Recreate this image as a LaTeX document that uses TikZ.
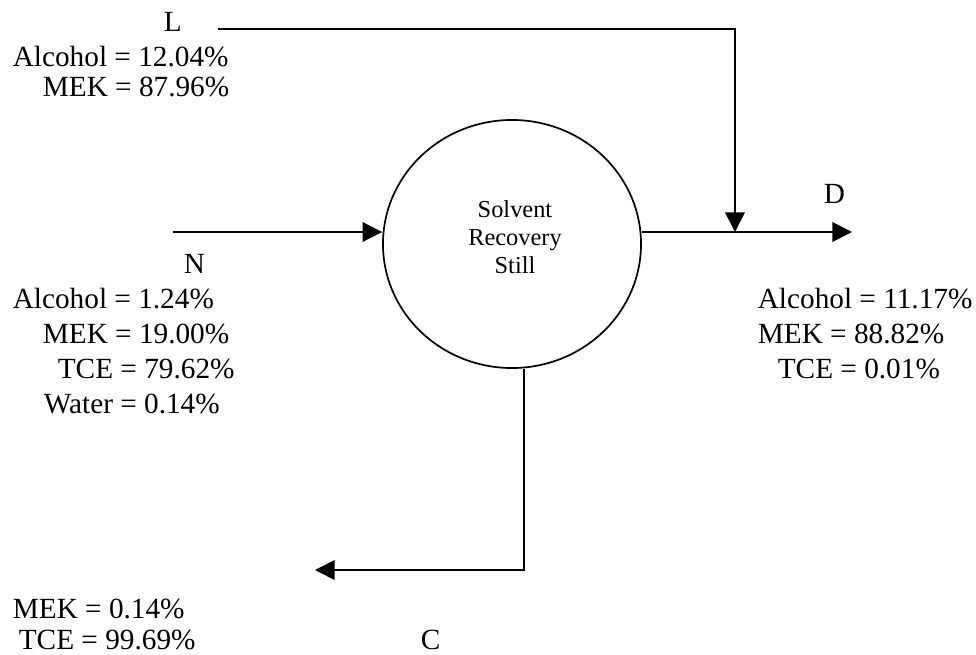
\documentclass[tikz,border=0pt]{standalone}
\usepackage{fontspec}
\setmainfont{Liberation Serif}
\usetikzlibrary{arrows.meta,shapes.geometric}

\begin{document}
\begin{tikzpicture}[x=0.41pt,y=0.41pt,yscale=-1,xscale=1,
  line width=0.7pt,
  flow/.style={-{Triangle[length=8pt,width=8pt]}},
  txt/.style={anchor=base west,inner sep=0pt,font=\fontsize{12}{14}\selectfont}]
\useasboundingbox (0,0) rectangle (976,655);

%Shape: Ellipse
\node[draw,ellipse,inner sep=0pt,minimum width=105.8pt,minimum height=101.7pt] (still) at (512,244) {};
% Text Node
\node[align=center,inner sep=0pt,font=\fontsize{10}{11.5}\selectfont] (stilltxt) at (515,237) {Solvent\\Recovery\\Still};

%Coordinates
\coordinate (Lstart) at (218,29);
\coordinate (Lturn) at (735,29);
\coordinate (Dmix) at (735,232);
\coordinate (Nstart) at (173,232);
\coordinate (Dend) at (852,232);
\coordinate (Cturn) at (524,570);
\coordinate (Cend) at (315,570);

%Straight Lines
\draw[flow] (Lstart) -- (Lturn) -- (Dmix);
%Straight Lines
\draw[flow] (Nstart) -- (Nstart -| still.west);
%Straight Lines
\draw[flow] (Dmix -| still.east) -- (Dend);
%Straight Lines
\draw[flow] (Cturn |- still.south) -- (Cturn) -- (Cend);

% Text Node
\node[txt] (L) at (163,31) {L};
% Text Node
\node[txt] (lAlc) at (12,66) {Alcohol = 12.04\%};
% Text Node
\node[txt] (lMEK) at (42,96) {MEK = 87.96\%};
% Text Node
\node[txt] (N) at (183,273) {N};
% Text Node
\node[txt] (nAlc) at (12,308) {Alcohol = 1.24\%};
% Text Node
\node[txt] (nMEK) at (42,343) {MEK = 19.00\%};
% Text Node
\node[txt] (nTCE) at (57,378) {TCE = 79.62\%};
% Text Node
\node[txt] (nWat) at (43,413) {Water = 0.14\%};
% Text Node
\node[txt] (D) at (823,203) {D};
% Text Node
\node[txt] (dAlc) at (757,308) {Alcohol = 11.17\%};
% Text Node
\node[txt] (dMEK) at (757,343) {MEK = 88.82\%};
% Text Node
\node[txt] (dTCE) at (777,378) {TCE = 0.01\%};
% Text Node
\node[txt] (cMEK) at (12,618) {MEK = 0.14\%};
% Text Node
\node[txt] (cTCE) at (18,649) {TCE = 99.69\%};
% Text Node
\node[txt] (C) at (420,649) {C};

\end{tikzpicture}
\end{document}
